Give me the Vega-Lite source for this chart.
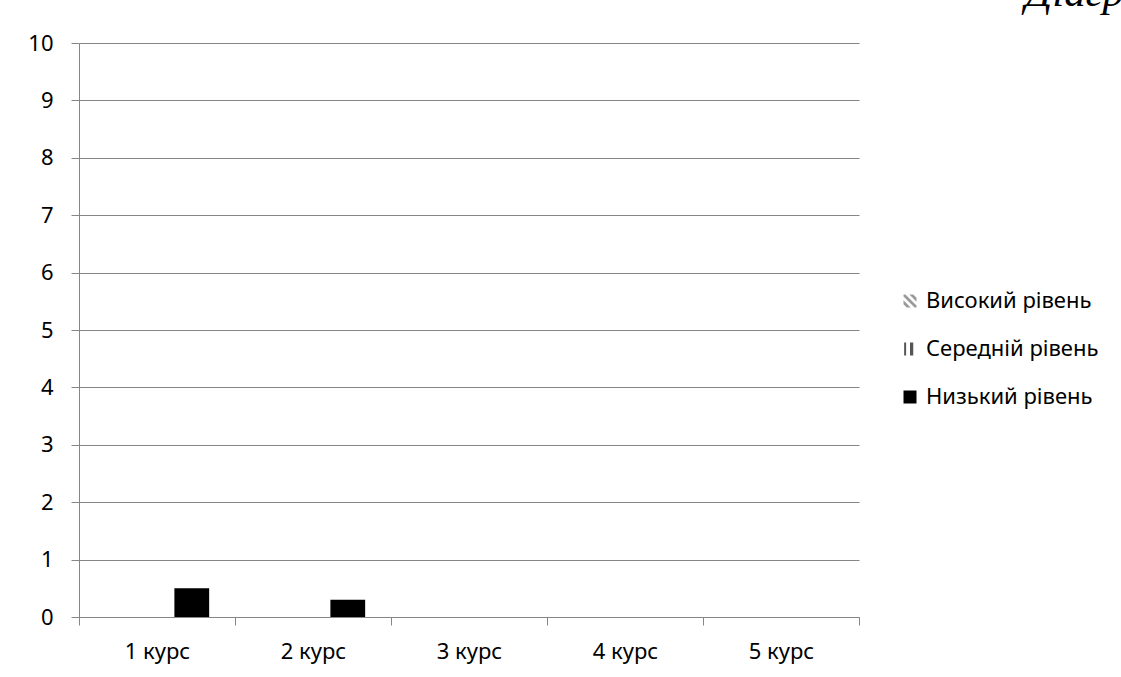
{
  "$schema": "https://vega.github.io/schema/vega-lite/v6.json",
  "autosize": {"type": "none"},
  "width": 780,
  "height": 574,
  "padding": {"left": 79, "top": 43, "right": 262, "bottom": 60},
  "background": "white",
  "title": {
    "text": "Діаграма",
    "font": "Liberation Serif",
    "fontStyle": "italic",
    "fontWeight": "normal",
    "fontSize": 43,
    "color": "black",
    "anchor": "start",
    "frame": "group",
    "baseline": "alphabetic",
    "dx": 946,
    "offset": 0,
    "dy": 17
  },
  "data": {
    "values": [
      {"kurs": "1 курс", "riven": "Високий рівень", "v": 0},
      {"kurs": "1 курс", "riven": "Середній рівень", "v": 0},
      {"kurs": "1 курс", "riven": "Низький рівень", "v": 0.5},
      {"kurs": "2 курс", "riven": "Високий рівень", "v": 0},
      {"kurs": "2 курс", "riven": "Середній рівень", "v": 0},
      {"kurs": "2 курс", "riven": "Низький рівень", "v": 0.3},
      {"kurs": "3 курс", "riven": "Високий рівень", "v": 0},
      {"kurs": "3 курс", "riven": "Середній рівень", "v": 0},
      {"kurs": "3 курс", "riven": "Низький рівень", "v": 0},
      {"kurs": "4 курс", "riven": "Високий рівень", "v": 0},
      {"kurs": "4 курс", "riven": "Середній рівень", "v": 0},
      {"kurs": "4 курс", "riven": "Низький рівень", "v": 0},
      {"kurs": "5 курс", "riven": "Високий рівень", "v": 0},
      {"kurs": "5 курс", "riven": "Середній рівень", "v": 0},
      {"kurs": "5 курс", "riven": "Низький рівень", "v": 0}
    ]
  },
  "encoding": {
    "x": {
      "field": "kurs",
      "type": "nominal",
      "sort": null,
      "scale": {"paddingInner": 0, "paddingOuter": 0},
      "axis": {
        "title": null,
        "labelAngle": 0,
        "tickBand": "extent",
        "grid": false,
        "tickSize": 8,
        "labelPadding": 16,
        "domainColor": "#868686",
        "tickColor": "#868686",
        "labelFont": "Noto Sans",
        "labelFontSize": 22,
        "labelColor": "black"
      }
    },
    "xOffset": {
      "field": "riven",
      "type": "nominal",
      "sort": ["Високий рівень", "Середній рівень", "Низький рівень"],
      "scale": {"paddingInner": 0, "paddingOuter": 0.743}
    },
    "y": {
      "field": "v",
      "type": "quantitative",
      "scale": {"domain": [0, 10], "nice": false},
      "axis": {
        "title": null,
        "values": [0, 1, 2, 3, 4, 5, 6, 7, 8, 9, 10],
        "grid": true,
        "gridColor": "#868686",
        "domainColor": "#868686",
        "tickColor": "#868686",
        "tickSize": 8,
        "labelPadding": 18,
        "labelFont": "Noto Sans",
        "labelFontSize": 22,
        "labelColor": "black"
      }
    },
    "color": {
      "field": "riven",
      "type": "nominal",
      "scale": {
        "domain": ["Високий рівень", "Середній рівень", "Низький рівень"],
        "range": ["#9a9a9a", "#555555", "#000000"]
      },
      "legend": {
        "title": null,
        "orient": "none",
        "legendX": 820,
        "legendY": 247
      }
    }
  },
  "layer": [
    {
      "mark": {"type": "bar", "strokeWidth": 0}
    },
    {
      "transform": [{"filter": "datum.v < 0"}],
      "mark": {"type": "point", "filled": true, "opacity": 1},
      "encoding": {
        "shape": {
          "field": "riven",
          "type": "nominal",
          "scale": {
            "domain": ["Високий рівень", "Середній рівень", "Низький рівень"],
            "range": [
              "M-0.7,-1 L-1,-1 L-1,-0.7 L0.7,1 L1,1 L1,0.7 Z M-0.1,-1 L0.5,-1 L1,-0.5 L1,0.1 Z M-1,-0.1 L0.1,1 L-0.5,1 L-1,0.5 Z",
              "M-0.9,-1 L-0.6,-1 L-0.6,1 L-0.9,1 Z M0,-1 L0.5,-1 L0.5,1 L0,1 Z",
              "square"
            ]
          },
          "legend": {
            "title": null,
            "orient": "none",
            "legendX": 820,
            "legendY": 247
          }
        }
      }
    }
  ],
  "config": {
    "view": {"stroke": null},
    "legend": {
      "labelFont": "Noto Sans",
      "labelFontSize": 22,
      "labelColor": "black",
      "labelLimit": 400,
      "symbolSize": 169,
      "symbolStrokeWidth": 0,
      "rowPadding": 26,
      "labelOffset": 5,
      "symbolOpacity": 1
    }
  }
}
